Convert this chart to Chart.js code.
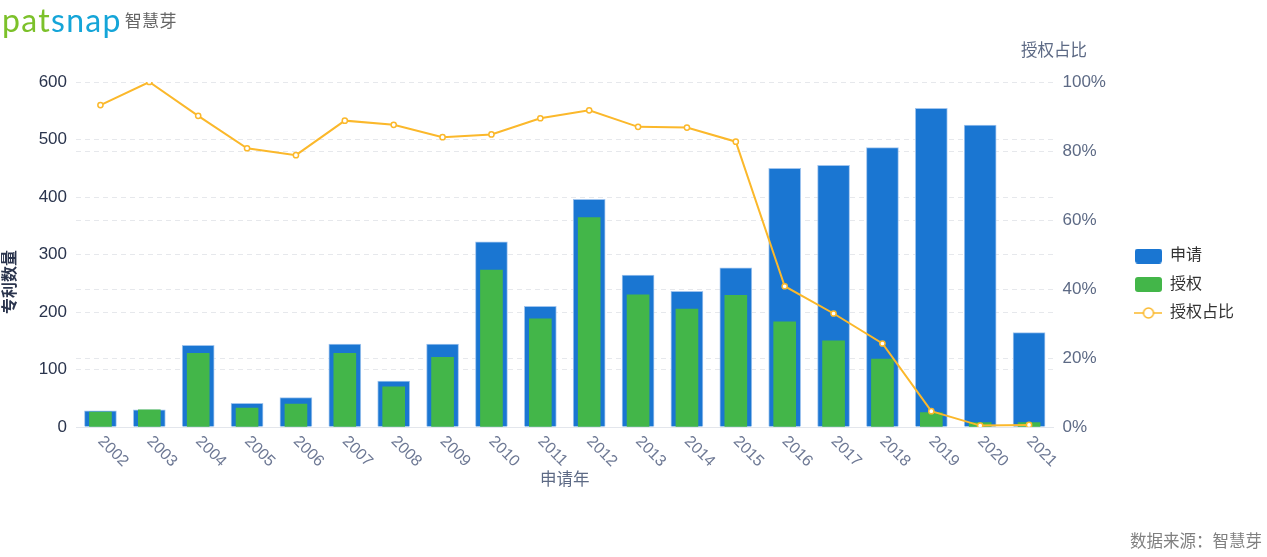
<!DOCTYPE html>
<html>
<head>
<meta charset="utf-8">
<script src="https://cdn.jsdelivr.net/npm/chart.js@4.4.1/dist/chart.umd.min.js"></script>
<style>
html,body{margin:0;padding:0;background:#fff;width:1267px;height:557px;overflow:hidden;}
#wrap{position:relative;width:1267px;height:557px;}
#c{position:absolute;left:0;top:0;}
.logo{position:absolute;left:2px;top:0px;font-family:Lato,"Open Sans",sans-serif;font-size:32px;letter-spacing:1.3px;line-height:40px;white-space:nowrap;}
.logo .g{color:#7cc12a;}
.logo .b{color:#15a5d8;}
.logo .cn{font-family:"Noto Sans CJK SC",sans-serif;font-size:17px;color:#666;letter-spacing:0.3px;margin-left:3px;position:relative;top:-5px;}
.foot{position:absolute;right:5px;top:528px;font-family:"Noto Sans CJK SC",sans-serif;font-size:16.5px;color:#808080;white-space:nowrap;}
</style>
</head>
<body>
<div id="wrap">
<canvas id="c" width="1267" height="557"></canvas>
<div class="logo"><span class="g">pat</span><span class="b">snap</span><span class="cn">智慧芽</span></div>
<div class="foot">数据来源：智慧芽</div>
</div>
<script>
const years = ['2002','2003','2004','2005','2006','2007','2008','2009','2010','2011','2012','2013','2014','2015','2016','2017','2018','2019','2020','2021'];
const applications = [28,30,142,41,51,144,80,144,322,210,396,264,236,277,450,455,486,554,525,164];
const grants = [26,30,128,33,40,128,70,121,273,188,364,230,205,229,183,150,118,25,2,1];
const grantRatio = [93.3,100,90.2,80.8,78.8,88.8,87.6,84.0,84.8,89.5,91.8,87.0,86.8,82.7,40.8,32.9,24.2,4.6,0.4,0.6];
const seriesNames = ['申请','授权','授权占比'];
const axisTitles = {x:'申请年', y:'专利数量', y1:'授权占比'};

const BLUE = '#1a76d2', GREEN = '#43b649', ORANGE = '#fbb82b';
const FONT = '"Helvetica Neue","Liberation Sans",Arial,"Noto Sans CJK SC",sans-serif';

function boxIcon(color){
  const c = document.createElement('canvas'); c.width = 27; c.height = 15;
  const g = c.getContext('2d');
  g.fillStyle = color; g.beginPath();
  if (g.roundRect) g.roundRect(0,0,27,15,3); else g.rect(0,0,27,15);
  g.fill(); return c;
}
function lineIcon(color){
  const c = document.createElement('canvas'); c.width = 28; c.height = 14;
  const g = c.getContext('2d');
  g.strokeStyle = color; g.lineWidth = 1.5;
  g.beginPath(); g.moveTo(0,7); g.lineTo(28,7); g.stroke();
  g.beginPath(); g.arc(14,7,5,0,Math.PI*2); g.fillStyle='#fff'; g.fill(); g.stroke();
  return c;
}
const icons = [boxIcon(BLUE), boxIcon(GREEN), lineIcon(ORANGE)];

const textPlugin = {
  id: 'textPlugin',
  afterDraw(chart){
    const ctx = chart.ctx, xs = chart.scales.x, area = chart.chartArea;
    ctx.save();
    ctx.fillStyle = '#6d7894';
    ctx.font = '16px ' + FONT;
    ctx.textAlign = 'left'; ctx.textBaseline = 'middle';
    years.forEach((y,i)=>{
      const px = xs.getPixelForValue(i);
      ctx.save();
      ctx.translate(px, area.bottom + 12);
      ctx.rotate(Math.PI/4);
      ctx.fillText(y, 0, 0);
      ctx.restore();
    });
    ctx.fillStyle = '#5d6a85';
    ctx.font = '16.5px ' + FONT;
    ctx.textAlign = 'center';
    ctx.fillText(axisTitles.x, (area.left + area.right)/2, 480);
    ctx.textAlign = 'left';
    ctx.fillText(axisTitles.y1, 1021, 51);
    ctx.save();
    ctx.translate(11, 282);
    ctx.rotate(-Math.PI/2);
    ctx.textAlign = 'center';
    ctx.fillStyle = '#2a344d';
    ctx.font = '600 16px ' + FONT;
    ctx.fillText(axisTitles.y, 0, 0);
    ctx.restore();
    ctx.restore();
  }
};

new Chart(document.getElementById('c'), {
  data: {
    labels: years,
    datasets: [
      {type:'line', label:seriesNames[2], data:grantRatio, yAxisID:'y1', order:0,
       borderColor:ORANGE, borderWidth:2, tension:0,
       pointRadius:2.6, pointBackgroundColor:'#fff', pointBorderColor:ORANGE, pointBorderWidth:1.5},
      {type:'bar', label:seriesNames[1], data:grants, yAxisID:'y', order:1,
       backgroundColor:GREEN, barThickness:22, grouped:false, minBarLength:4.5},
      {type:'bar', label:seriesNames[0], data:applications, yAxisID:'y', order:2,
       backgroundColor:BLUE, borderColor:'#9fc4ee', borderWidth:{top:1,left:1,right:1,bottom:0}, barThickness:32, grouped:false}
    ]
  },
  options: {
    responsive:false, animation:false, devicePixelRatio:1,
    layout:{padding:{top:82, left:0, right:23, bottom:70}},
    plugins:{
      tooltip:{enabled:false},
      legend:{
        position:'right', align:'center',
        labels:{
          usePointStyle:true, pointStyleWidth:27, boxHeight:15, padding:12.5,
          font:{size:16, family:FONT}, color:'#333',
          generateLabels(chart){
            return seriesNames.map((n,i)=>({text:n, pointStyle:icons[i], datasetIndex:2-i, hidden:false, fontColor:'#333', lineWidth:0, strokeStyle:'transparent', fillStyle:'transparent'}));
          }
        }
      }
    },
    scales:{
      x:{
        offset:true,
        grid:{display:false},
        border:{display:true, color:'#e3e6ec'},
        ticks:{display:false},
        afterFit(s){ s.height = 60; }
      },
      y:{
        position:'left', min:0, max:600,
        ticks:{stepSize:100, padding:9, color:'#2a344d', font:{size:17, family:FONT}},
        grid:{color:'#e6e8ec', drawTicks:false},
        border:{display:false, dash:[5,4]},
        afterFit(s){ s.width = 76; }
      },
      y1:{
        position:'right', min:0, max:100,
        ticks:{stepSize:20, padding:9, color:'#5d6a85', font:{size:17, family:FONT}, callback:v=>v+'%'},
        grid:{color:'#e6e8ec', drawTicks:false},
        border:{display:false, dash:[5,4]},
        afterFit(s){ s.width = 69; }
      }
    }
  },
  plugins:[textPlugin]
});
</script>
</body>
</html>
